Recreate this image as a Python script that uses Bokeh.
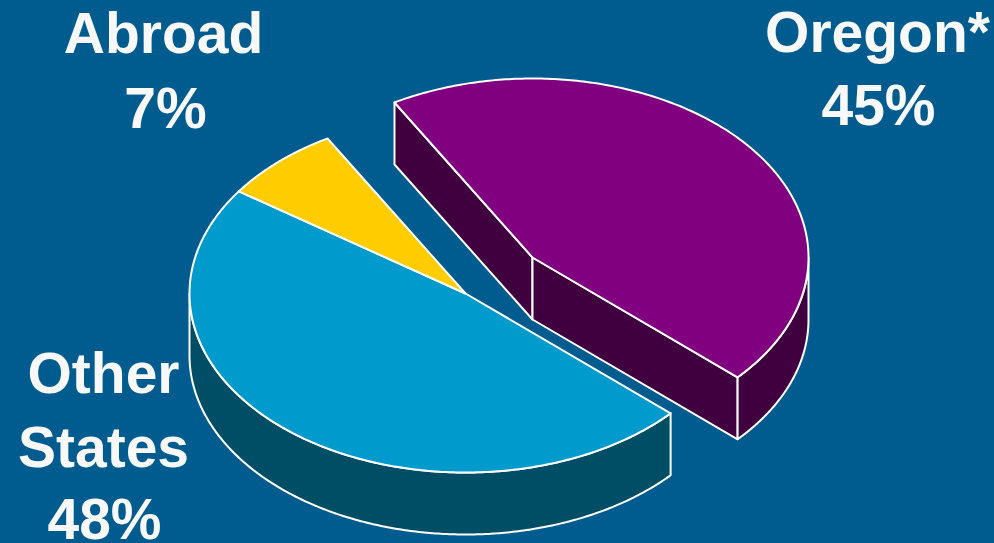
import numpy as np
from bokeh.plotting import figure
from bokeh.core.properties import value
from bokeh.embed import file_html
from bokeh.resources import INLINE

categories = ["Oregon*", "Other States", "Abroad"]
shares = [45, 48, 7]
top_colors = ["#80007F", "#009ACD", "#FFCC00"]
side_colors = ["#400040", "#004D66", "#7F6600"]
offsets = [(67, -36), (0, 0), (0, 0)]

label_lines = [["Oregon*", "45%"], ["Other", "States", "48%"], ["Abroad", "7%"]]
label_x = [[877, 878], [103, 103, 104], [163, 165]]
label_baselines = [[31, 104], [372, 446, 518], [32, 107]]

BG = "#005C8F"
CX, CY, A, B, DEPTH = 465, 293, 276, 179, 62
START = 120.0

W, H = 994, 543
p = figure(width=W, height=H, x_range=(0, W), y_range=(H, 0),
           output_backend="svg", toolbar_location=None,
           background_fill_color=BG, border_fill_color=BG,
           min_border=0, outline_line_color=None)
p.axis.visible = False
p.grid.visible = False


def arc(t0, t1, ox, oy, dy=0):
    t = np.radians(np.linspace(t0, t1, 240))
    return CX + ox + A * np.cos(t), CY + oy + dy - B * np.sin(t)


angles = [START]
for s in shares:
    angles.append(angles[-1] - 360.0 * s / sum(shares))

# walls first
walls = []
# Oregon cut faces
t0, t1 = angles[0], angles[1]
ox, oy = offsets[0]
ax, ay = CX + ox, CY + oy
x0, y0 = arc(t0, t0, ox, oy)
x1, y1 = arc(t1, t1, ox, oy)
walls.append(([x0[0], ax, ax, x0[0]], [y0[0], ay, ay + DEPTH, y0[0] + DEPTH], side_colors[0]))
walls.append(([ax, x1[0], x1[0], ax], [ay, y1[0], y1[0] + DEPTH, ay + DEPTH], side_colors[0]))
# Oregon outer wall, down to the rightmost point
xa, ya = arc(t1, 0, ox, oy)
xb, yb = arc(0, t1, ox, oy, DEPTH)
walls.append((list(xa) + list(xb), list(ya) + list(yb), side_colors[0]))
# Other States outer wall, to the leftmost point
xa, ya = arc(angles[1], -180, 0, 0)
xb, yb = arc(-180, angles[1], 0, 0, DEPTH)
walls.append((list(xa) + list(xb), list(ya) + list(yb), side_colors[1]))

for wx, wy, c in walls:
    p.patch(wx, wy, fill_color=c, line_color="white", line_width=2, line_join="round")

# tops
for i in range(len(shares)):
    ox, oy = offsets[i]
    xs, ys = arc(angles[i], angles[i + 1], ox, oy)
    p.patch([CX + ox] + list(xs), [CY + oy] + list(ys), fill_color=top_colors[i],
            line_color="white", line_width=2, line_join="round")

# labels
for lines, xs_l, bases in zip(label_lines, label_x, label_baselines):
    p.text(xs_l, bases, text=lines, text_color="#F8F8F8",
           text_font=value("Liberation Sans"), text_font_style="bold",
           text_font_size="57px", text_align="center", text_baseline="alphabetic")

html = file_html(p, INLINE)
html = html.replace("</head>", "<style>html,body{margin:0;background:%s;overflow:hidden}</style></head>" % BG, 1)
open("out.html", "w").write(html)
